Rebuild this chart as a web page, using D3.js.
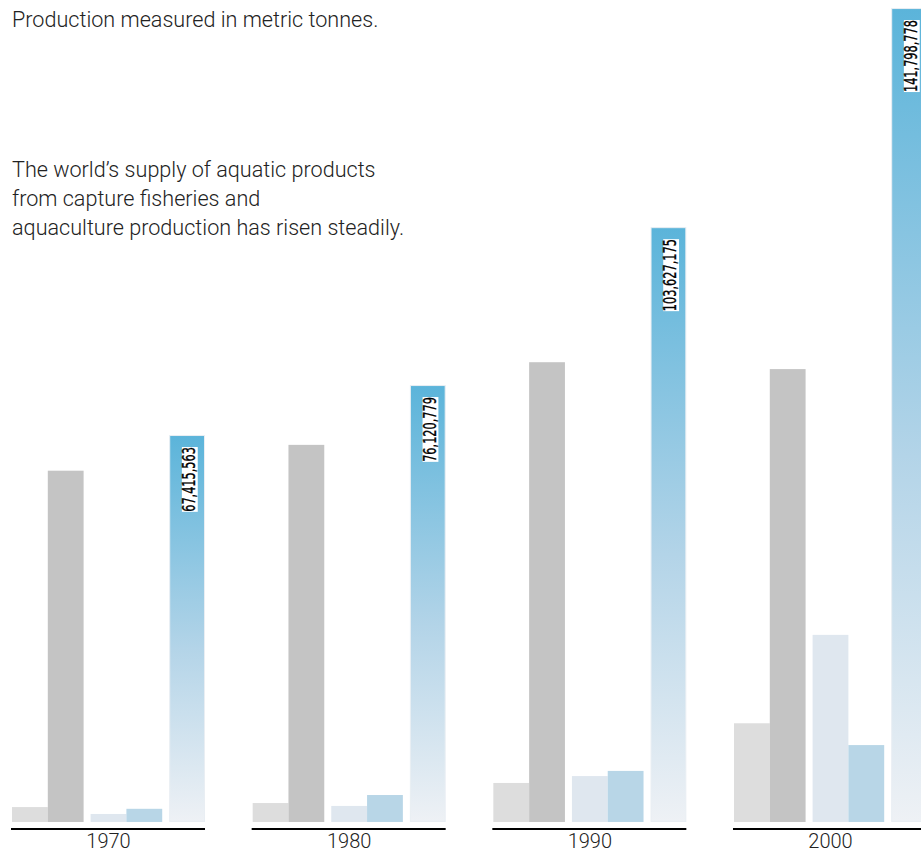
<!DOCTYPE html>
<html>
<head>
<meta charset="utf-8">
<script src="https://cdn.jsdelivr.net/npm/d3@7"></script>
<style>
  html, body { margin: 0; padding: 0; background: #fff; }
  svg { display: block; }
  .note { font-family: "Roboto", "Liberation Sans", sans-serif; font-weight: 300; fill: #222; }
  .val { font-family: "Liberation Sans Narrow", "DejaVu Sans Condensed", sans-serif; font-stretch: condensed; fill: #000; }
</style>
</head>
<body>
<svg id="chart" width="921" height="853"></svg>
<script>
// Decades shown on the axis
const years = ["1970", "1980", "1990", "2000"];

// Production by source, millions of metric tonnes
const inlandCapture      = [2.6, 3.3, 6.8, 17.2];
const marineCapture      = [61.2, 65.7, 80.1, 78.9];
const inlandAquaculture  = [1.4, 2.8, 8.0, 32.6];
const marineAquaculture  = [2.3, 4.7, 8.9, 13.4];

// Total supply, metric tonnes (printed on the tallest bar of each group)
const totals = [67415563, 76120779, 103627175, 141798778];

const seriesColors = ["#dddddd", "#c4c4c4", "#dfe7ef", "#b8d6e7"];

const svg = d3.select("#chart");

const x = d3.scaleBand().domain(years).range([12, 927]).paddingInner(0.198).paddingOuter(0);
const y = d3.scaleLinear().domain([0, 143.2]).range([822, 0]);

const gap = 7;
const bw = (x.bandwidth() - 2 * gap) / 5;
// slot offsets: two capture bars, gap, two aquaculture bars, gap, total
const slotX = i => i * bw + (i >= 2 ? gap : 0) + (i >= 4 ? gap : 0);

// Vertical gradient for the total bars, stretched over each bar
const defs = svg.append("defs");
const grad = defs.append("linearGradient")
  .attr("id", "totalGrad")
  .attr("x1", 0).attr("y1", 0).attr("x2", 0).attr("y2", 1);
grad.append("stop").attr("offset", "0%").attr("stop-color", "#5bb4da");
grad.append("stop").attr("offset", "55%").attr("stop-color", "#b3d4e8");
grad.append("stop").attr("offset", "100%").attr("stop-color", "#eef1f5");

const series = [inlandCapture, marineCapture, inlandAquaculture, marineAquaculture];

const groups = svg.append("g").selectAll("g")
  .data(years)
  .join("g")
  .attr("transform", d => `translate(${x(d)},0)`);

series.forEach((vals, si) => {
  groups.append("rect")
    .attr("x", slotX(si))
    .attr("width", bw)
    .attr("y", (d, i) => y(vals[i]))
    .attr("height", (d, i) => y(0) - y(vals[i]))
    .attr("fill", seriesColors[si]);
});

groups.append("rect")
  .attr("x", slotX(4) + 0.5)
  .attr("width", bw - 1)
  .attr("y", (d, i) => y(totals[i] / 1e6) + 0.5)
  .attr("height", (d, i) => y(0) - y(totals[i] / 1e6) - 1)
  .attr("fill", "url(#totalGrad)")
  .attr("stroke", "#e9eef3")
  .attr("stroke-width", 1);

// Value labels, rotated and condensed, with white backing
const fmt = d3.format(",");
groups.each(function (d, i) {
  const g = d3.select(this);
  const cx = slotX(4) + bw / 2;
  const top = y(totals[i] / 1e6) + 12;
  const lab = g.append("g")
    .attr("transform", `translate(${cx + 8},${top}) rotate(-90) scale(0.7,1)`);
  const t = lab.append("text")
    .attr("class", "val")
    .attr("text-anchor", "end")
    .attr("font-size", 18)
    .attr("stroke", "#000")
    .attr("stroke-width", 0.35)
    .text(fmt(totals[i]));
  const bb = t.node().getBBox();
  lab.insert("rect", "text")
    .attr("x", bb.x).attr("y", bb.y + 3)
    .attr("width", bb.width).attr("height", bb.height - 5)
    .attr("fill", "#fff");
});

// Axis: a rule under each group and the year below it
const axis = d3.axisBottom(x).tickSize(0).tickPadding(5);
const ax = svg.append("g").attr("transform", "translate(0,829)").call(axis);
ax.select(".domain").remove();
ax.selectAll("text")
  .attr("class", "note")
  .attr("font-size", 20)
  .attr("fill", "#222")
  .attr("dy", "0.71em");
ax.selectAll(".tick").append("line")
  .attr("x1", -x.bandwidth() / 2 - 1).attr("x2", x.bandwidth() / 2)
  .attr("y1", 0).attr("y2", 0)
  .attr("stroke", "#000").attr("stroke-width", 2);

// Notes
svg.append("text").attr("class", "note").attr("x", 12).attr("y", 27)
  .attr("font-size", 21.6).text("Production measured in metric tonnes.");

const para = [
  "The world\u2019s supply of aquatic products",
  "from capture fisheries and",
  "aquaculture production has risen steadily."
];
svg.append("text").attr("class", "note").attr("font-size", 21.6)
  .selectAll("tspan").data(para).join("tspan")
  .attr("x", 12).attr("y", (d, i) => 177 + i * 29)
  .text(d => d);
</script>
</body>
</html>
